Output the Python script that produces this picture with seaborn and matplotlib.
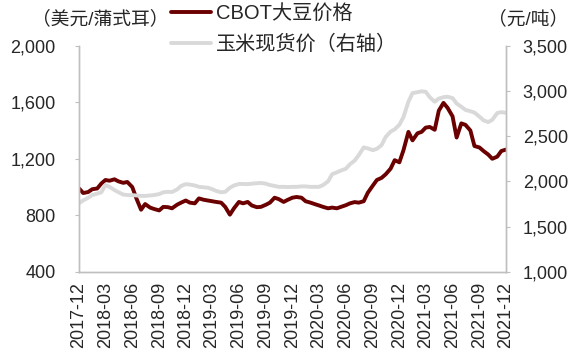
import numpy as np
import pandas as pd
import matplotlib
matplotlib.use("Agg")
import matplotlib.pyplot as plt
import matplotlib.dates as mdates
import seaborn as sns

# semi-monthly points, 2017-12-01 .. 2021-12-01
dates = pd.date_range("2017-12-01", "2021-12-01", freq="SMS")

# CBOT soybean, USD/bushel (left axis)
soy = [990, 958, 965, 985, 990, 1025, 1050, 1045, 1055, 1040,
       1030, 1036, 1000, 920, 840, 880, 855, 845, 835, 860,
       858, 850, 875, 890, 905, 890, 885, 920, 910, 905,
       900, 895, 890, 860, 805, 850, 895, 885, 895, 870,
       858, 860, 875, 890, 925, 915, 895, 910, 925, 930,
       925, 900, 890, 880, 870, 860, 850, 855, 850, 860,
       872, 885, 894, 890, 900, 960, 1010, 1050, 1065, 1090,
       1130, 1190, 1175, 1260, 1390, 1330, 1380, 1390, 1420, 1425,
       1405, 1540, 1595, 1560, 1500, 1350, 1450, 1440, 1400, 1290,
       1280, 1255, 1230, 1200, 1215, 1255, 1265]

# corn spot price, CNY/ton (right axis)
corn = [1760, 1790, 1820, 1850, 1865, 1880, 1960, 1940, 1905, 1880,
        1855, 1850, 1848, 1845, 1840, 1840, 1845, 1850, 1860, 1880,
        1885, 1883, 1910, 1950, 1970, 1965, 1955, 1940, 1935, 1930,
        1915, 1895, 1880, 1885, 1930, 1955, 1972, 1972, 1970, 1975,
        1980, 1983, 1975, 1960, 1950, 1940, 1940, 1938, 1940, 1940,
        1945, 1945, 1940, 1940, 1940, 1960, 2000, 2080, 2100, 2120,
        2140, 2190, 2230, 2290, 2375, 2365, 2345, 2360, 2400, 2490,
        2550, 2575, 2625, 2710, 2880, 2975, 2985, 2995, 2990, 2930,
        2880, 2915, 2930, 2935, 2920, 2860, 2825, 2790, 2775, 2760,
        2715, 2675, 2655, 2680, 2755, 2765, 2757]

left_ticks = [400, 800, 1200, 1600, 2000]
right_ticks = [1000, 1500, 2000, 2500, 3000, 3500]
x_ticks = pd.date_range("2017-12-01", "2021-12-01", freq="3MS")

df = pd.DataFrame({"date": dates, "soy": soy, "corn": corn})

sns.set_style("white")
plt.rcParams["font.family"] = ["Liberation Sans", "Noto Sans CJK SC"]
plt.rcParams["font.size"] = 13

soy_color = "#6B0000"
corn_color = "#D9D9D9"
spine_color = "#BFBFBF"

fig = plt.figure(figsize=(5.86, 3.56), dpi=100)
ax = fig.add_axes([0.135, 0.236, 0.7285, 0.636])
ax2 = ax.twinx()

sns.lineplot(data=df, x="date", y="soy", ax=ax, color=soy_color, linewidth=2.8,
             label="CBOT大豆价格", legend=False)
sns.lineplot(data=df, x="date", y="corn", ax=ax2, color=corn_color, linewidth=2.8,
             label="玉米现货价（右轴）", legend=False)

ax.set_xlim(x_ticks[0], x_ticks[-1])
ax.set_ylim(400, 2000)
ax2.set_ylim(1000, 3500)
ax.set_yticks(left_ticks)
ax2.set_yticks(right_ticks)
ax.yaxis.set_major_formatter(matplotlib.ticker.StrMethodFormatter("{x:,.0f}"))
ax2.yaxis.set_major_formatter(matplotlib.ticker.StrMethodFormatter("{x:,.0f}"))
ax.set_xticks(x_ticks)
ax.xaxis.set_major_formatter(mdates.DateFormatter("%Y-%m"))
for lab in ax.get_xticklabels():
    lab.set_rotation(90)

ax.set_xlabel("")
ax.set_ylabel("")
ax2.set_xlabel("")
ax2.set_ylabel("")

for a in (ax, ax2):
    a.spines["top"].set_visible(False)
    for s in ("left", "right", "bottom"):
        a.spines[s].set_color(spine_color)
        a.spines[s].set_linewidth(1.0)
ax.tick_params(axis="y", direction="out", length=3, color=spine_color, pad=14, labelsize=13)
ax2.tick_params(axis="y", direction="out", length=3, color=spine_color, pad=9, labelsize=13)
ax.tick_params(axis="x", direction="out", length=3, color=spine_color, pad=4, labelsize=13)

h1, l1 = ax.get_legend_handles_labels()
h2, l2 = ax2.get_legend_handles_labels()
fig.legend(h1 + h2, l1 + l2, loc="upper left", bbox_to_anchor=(0.292, 0.99),
           frameon=False, handlelength=2.0, handletextpad=0.25, labelspacing=0.6,
           borderpad=0, borderaxespad=0, fontsize=14.5)

fig.text(32 / 586, 1 - 19 / 356, "（美元/蒲式耳）", fontsize=13.5, va="center", ha="left")
fig.text(568 / 586, 1 - 19 / 356, "（元/吨）", fontsize=13.5, va="center", ha="right")

fig.savefig("out.png", dpi=100)
